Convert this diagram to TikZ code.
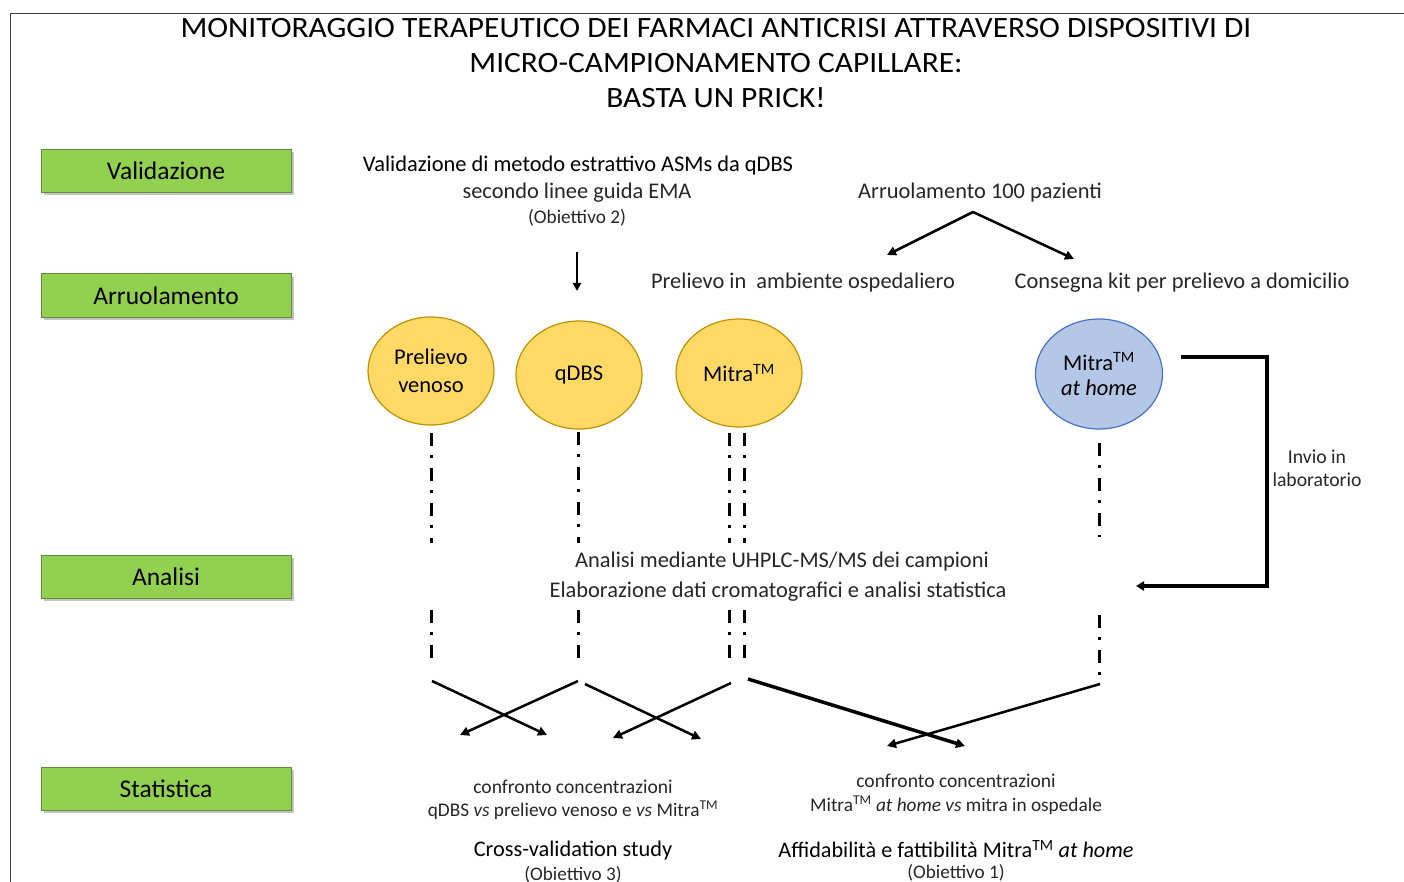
\documentclass[tikz,border=0pt]{standalone}
\usepackage{fontspec}
\setmainfont{Carlito}
\usetikzlibrary{shadows,arrows.meta,shapes.geometric}
\definecolor{boxgreen}{HTML}{92D050}
\definecolor{boxedge}{HTML}{5E8C3A}
\definecolor{ellyel}{HTML}{FFD966}
\definecolor{ellyeledge}{HTML}{BF9000}
\definecolor{ellblue}{HTML}{B4C7E7}
\definecolor{ellblueedge}{HTML}{4472C4}
\definecolor{txt}{HTML}{262626}
\tikzset{
  phase/.style={draw=boxedge, line width=1pt, fill=boxgreen, minimum width=250pt, minimum height=43pt,
    font=\fontsize{25.5}{30}\selectfont, text=black,
    drop shadow={shadow xshift=3pt, shadow yshift=-3pt, fill=black!45, opacity=0.5}},
  lbl/.style={inner sep=0pt, text=txt, font=\fontsize{22.4}{26}\selectfont, align=center},
  small/.style={inner sep=0pt, text=txt, font=\fontsize{19.3}{23}\selectfont, align=center},
  yel/.style={ellipse, draw=ellyeledge, line width=1.2pt, fill=ellyel, minimum width=126pt, minimum height=108pt,
    font=\fontsize{22.5}{28}\selectfont, align=center, inner sep=0pt},
  blu/.style={ellipse, draw=ellblueedge, line width=1.2pt, fill=ellblue, minimum width=127pt, minimum height=110pt,
    font=\fontsize{22.5}{25}\selectfont, align=center, inner sep=0pt},
  dd/.style={line width=3pt, dash pattern=on 13pt off 9pt on 3pt off 10pt},
  arr/.style={line width=2.5pt, -{Triangle[length=9pt,width=9pt]}},
}
\begin{document}
\begin{tikzpicture}[x=1pt,y=-1pt]
\useasboundingbox (0,0) rectangle (1404,882);
% frame
\draw[line width=1.5pt, black!75] (10.5,882) -- (10.5,13.5) -- (1404,13.5);
% title
\node[inner sep=0pt, align=center, font=\fontsize{29.5}{35}\selectfont] (title) at (716,63)
  {\scalebox{1.065}[1]{MONITORAGGIO TERAPEUTICO DEI FARMACI ANTICRISI ATTRAVERSO DISPOSITIVI DI}\\
   \scalebox{1.065}[1]{MICRO-CAMPIONAMENTO CAPILLARE:}\\
   \scalebox{1.065}[1]{BASTA UN PRICK!}};
% phase boxes
\node[phase] (val) at (166,171) {Validazione};
\node[phase] (arr) at (166,295.5) {Arruolamento};
\node[phase] (ana) at (166,576.5) {Analisi};
\node[phase] (sta) at (166,788.5) {Statistica};
% validation text
\node[lbl, text=black] (v1) at (578,166) {Validazione di metodo estrattivo ASMs da qDBS};
\node[lbl] (v2) at (577,193) {secondo linee guida EMA};
\node[small] (v3) at (577,218) {(Obiettivo 2)};
\coordinate (vA) at (577,252);
\coordinate (vB) at (577,291);
\draw[line width=2pt, -{Triangle[length=8pt,width=8pt]}] (vA) -- (vB);
% enrolment
\node[lbl] (enr) at (980,193) {Arruolamento 100 pazienti};
\coordinate (split) at (973,212);
\coordinate (toH) at (887,255);
\coordinate (toK) at (1074,259);
\draw[arr] (split) -- (toH);
\draw[arr] (split) -- (toK);
\node[lbl] (osp) at (803,283) {Prelievo in\ \ ambiente ospedaliero};
\node[lbl] (dom) at (1182,283) {Consegna kit per prelievo a domicilio};
% ellipses
\node[yel] (pv) at (431,371) {Prelievo\\venoso};
\node[yel] (qd) at (579,375) {qDBS};
\node[yel] (mi) at (739,373) {Mitra\textsuperscript{TM}};
\node[blu] (mh) at (1099,374) {Mitra\textsuperscript{TM}\\\textit{at home}};
% dash-dot lines upper
\coordinate (a1) at (431,433); \coordinate (a2) at (431,543);
\coordinate (b1) at (578,432); \coordinate (b2) at (578,543);
\coordinate (c1) at (729,433); \coordinate (c2) at (729,543);
\coordinate (d1) at (744,433); \coordinate (d2) at (744,543);
\coordinate (e1) at (1099,443); \coordinate (e2) at (1099,537);
\draw[dd] (a1) -- (a2);
\draw[dd] (b1) -- (b2);
\draw[dd] (c1) -- (c2);
\draw[dd] (d1) -- (d2);
\draw[dd] (e1) -- (e2);
% analysis
\node[lbl] (an1) at (782,562) {Analisi mediante UHPLC-MS/MS dei campioni};
\node[lbl] (an2) at (778,592) {Elaborazione dati cromatografici e analisi statistica};
% dash-dot lines lower
\coordinate (a3) at (431,610); \coordinate (a4) at (431,665);
\coordinate (b3) at (578,610); \coordinate (b4) at (578,665);
\coordinate (c3) at (729,610); \coordinate (c4) at (729,665);
\coordinate (d3) at (744,610); \coordinate (d4) at (744,665);
\coordinate (e3) at (1099,615); \coordinate (e4) at (1099,682);
\draw[dd] (a3) -- (a4);
\draw[dd] (b3) -- (b4);
\draw[dd] (c3) -- (c4);
\draw[dd] (d3) -- (d4);
\draw[dd] (e3) -- (e4);
% send to lab
\coordinate (s1) at (1181,357);
\coordinate (s2) at (1267,357);
\coordinate (s3) at (1267,586);
\coordinate (s4) at (1136,586);
\draw[line width=3.5pt, -{Triangle[length=8pt,width=9pt]}] (s1) -- (s2) -- (s3) -- (s4);
\node[small, font=\fontsize{19.7}{23}\selectfont] (lab) at (1317,468) {Invio in\\laboratorio};
% crossing arrows
\coordinate (x1) at (432,681); \coordinate (x1e) at (547,735);
\coordinate (x2) at (578,681); \coordinate (x2e) at (460,735);
\coordinate (x3) at (585,684); \coordinate (x3e) at (701,739);
\coordinate (x4) at (731,683); \coordinate (x4e) at (613,738);
\coordinate (x5) at (748,679); \coordinate (x5e) at (965,746);
\coordinate (x6) at (1100,684); \coordinate (x6e) at (887,746);
\draw[arr] (x1) -- (x1e);
\draw[arr] (x2) -- (x2e);
\draw[arr] (x3) -- (x3e);
\draw[arr] (x4) -- (x4e);
\draw[arr, line width=3.5pt] (x5) -- (x5e);
\draw[arr] (x6) -- (x6e);
% bottom texts
\node[small, font=\fontsize{19.6}{23}\selectfont] (cl1) at (573,787) {confronto concentrazioni};
\node[small] (cl2) at (573,810) {qDBS \textit{vs} prelievo venoso e \textit{vs} Mitra\textsuperscript{TM}};
\node[lbl, font=\fontsize{22.3}{26}\selectfont, text=black] (cl3) at (573,851) {Cross-validation study};
\node[small, font=\fontsize{19.2}{23}\selectfont] (cl4) at (573,875) {(Obiettivo 3)};
\node[small, font=\fontsize{19.6}{23}\selectfont] (cr1) at (956,781) {confronto concentrazioni};
\node[small] (cr2) at (956,805) {Mitra\textsuperscript{TM} \textit{at home vs} mitra in ospedale};
\node[lbl, font=\fontsize{22.2}{26}\selectfont, text=black] (cr3) at (956,849) {Affidabilità e fattibilità Mitra\textsuperscript{TM} \textit{at home}};
\node[small, font=\fontsize{19.2}{23}\selectfont] (cr4) at (956,873) {(Obiettivo 1)};
\end{tikzpicture}
\end{document}
